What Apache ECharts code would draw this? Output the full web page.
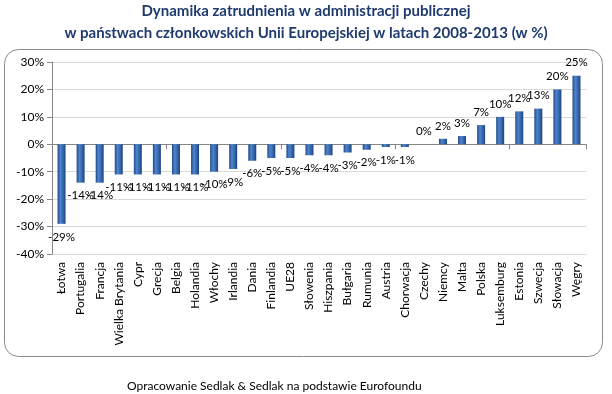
<!DOCTYPE html>
<html><head><meta charset="utf-8">
<script src="https://cdn.jsdelivr.net/npm/echarts@6/dist/echarts.min.js"></script>
<style>html,body{margin:0;padding:0;background:#fff}#c{width:612px;height:394px}</style>
</head><body><div id="c"></div>
<script>
const categories = ['Łotwa','Portugalia','Francja','Wielka Brytania','Cypr','Grecja','Belgia','Holandia','Włochy','Irlandia','Dania','Finlandia','UE28','Słowenia','Hiszpania','Bułgaria','Rumunia','Austria','Chorwacja','Czechy','Niemcy','Malta','Polska','Luksemburg','Estonia','Szwecja','Słowacja','Węgry'];
const values = [-29,-14,-14,-11,-11,-11,-11,-11,-10,-9,-6,-5,-5,-4,-4,-3,-2,-1,-1,0,2,3,7,10,12,13,20,25];
const yTicks = {min:-40, max:30, interval:10};
const titleLine1 = 'Dynamika zatrudnienia w administracji publicznej';
const titleLine2 = 'w państwach członkowskich Unii Europejskiej w latach 2008-2013 (w %)';
const sourceText = 'Opracowanie Sedlak & Sedlak na podstawie Eurofoundu';

const chart = echarts.init(document.getElementById('c'), null, {renderer:'canvas'});
const FONT = 'Lato, "Open Sans", sans-serif';
const titleStyle = {fontFamily:FONT,fontWeight:'bold',fontSize:15,color:'#1f3a6e'};
const barData = values.map(v => v === 0 ? {value:v,label:{position:'top'}} : v);
chart.setOption({
  animation:false,
  title:[
    {text:titleLine1,left:'center',top:4,padding:0,textStyle:titleStyle},
    {text:titleLine2,left:'center',top:26,padding:0,textStyle:titleStyle}
  ],
  graphic:[
    {type:'rect',shape:{x:4.5,y:49.5,width:598,height:307,r:14},style:{fill:'none',stroke:'#8a8a8a',lineWidth:1},z:-1},
    {type:'text',left:127,top:380,style:{text:sourceText,font:'12px '+FONT,fill:'#000'}}
  ],
  grid:{left:52,right:26,top:62,bottom:140},
  xAxis:[
    {type:'category',data:categories,position:'bottom',
     axisLine:{show:false,onZero:false},axisTick:{show:false},
     axisLabel:{rotate:90,interval:0,margin:8,fontFamily:FONT,fontSize:12,color:'#000'}},
    {type:'category',data:categories,position:'bottom',
     axisLine:{show:true,onZero:true,lineStyle:{color:'#868686',width:1}},
     axisTick:{show:true,length:5,inside:false,lineStyle:{color:'#868686'}},
     axisLabel:{show:false},splitLine:{show:false}}
  ],
  yAxis:{type:'value',min:yTicks.min,max:yTicks.max,interval:yTicks.interval,
    axisLine:{show:true,lineStyle:{color:'#868686'}},
    axisTick:{show:true,length:5,lineStyle:{color:'#868686'}},
    axisLabel:{formatter:'{value}%',fontFamily:FONT,fontSize:12,color:'#000',margin:8},
    splitLine:{lineStyle:{color:'#d9d9d9'}}},
  series:[{
    type:'bar',xAxisIndex:0,data:barData,barWidth:8,
    itemStyle:{color:new echarts.graphic.LinearGradient(0,0,1,0,[
      {offset:0,color:'#1f4a85'},{offset:0.35,color:'#4f84cc'},{offset:0.7,color:'#3465ad'},{offset:1,color:'#1c427a'}])},
    label:{show:true,position:'outside',distance:7,formatter:'{c}%',fontFamily:FONT,fontSize:11.5,color:'#000'}
  }]
});
</script></body></html>
